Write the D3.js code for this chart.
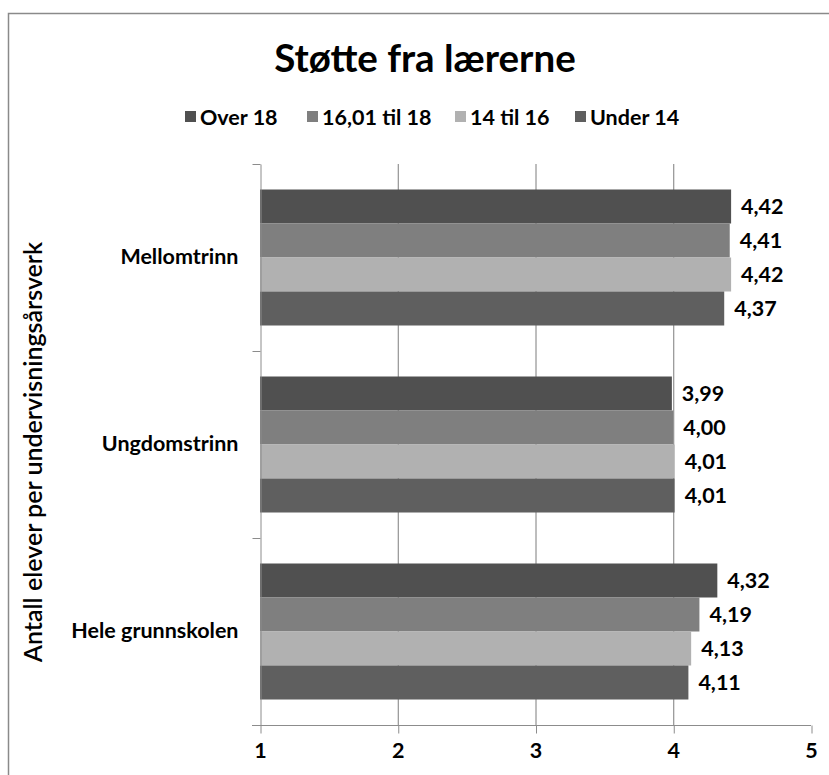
<!DOCTYPE html>
<html>
<head>
<meta charset="utf-8">
<script src="https://cdn.jsdelivr.net/npm/d3@7"></script>
<style>
  html, body { margin: 0; padding: 0; background: #fff; }
  svg { display: block; }
  text { font-family: Lato, "Open Sans", sans-serif; fill: #000; }
</style>
</head>
<body>
<script>
// Skolenivå (kategorier) og gruppene etter antall elever per undervisningsårsverk
const categories = ["Mellomtrinn", "Ungdomstrinn", "Hele grunnskolen"];
const seriesNames = ["Over 18", "16,01 til 18", "14 til 16", "Under 14"];
const overEighteen = [4.42, 3.99, 4.32];
const sixteenToEighteen = [4.41, 4.00, 4.19];
const fourteenToSixteen = [4.42, 4.01, 4.13];
const underFourteen = [4.37, 4.01, 4.11];
const xTicks = [1, 2, 3, 4, 5];
const seriesColors = ["#505050", "#7f7f7f", "#b1b1b1", "#5f5f5f"];

const seriesValues = [overEighteen, sixteenToEighteen, fourteenToSixteen, underFourteen];

const W = 829, H = 775;
const plot = { left: 260, right: 811, top: 164, bottom: 725 };
const labelFont = 21.5;

const svg = d3.select("body").append("svg")
  .attr("width", W).attr("height", H);

// Ytre ramme rundt diagrammet
svg.append("rect")
  .attr("x", 8.5).attr("y", 13.5)
  .attr("width", 900).attr("height", 900)
  .attr("fill", "none").attr("stroke", "#8a8a8a").attr("stroke-width", 1.5);

// Tittel
svg.append("text")
  .attr("x", 425).attr("y", 72)
  .attr("text-anchor", "middle")
  .attr("font-size", 38.5).attr("font-weight", 700)
  .text("Støtte fra lærerne");

// Skalaer
const x = d3.scaleLinear().domain([1, 5]).range([plot.left, plot.right]);
const y0 = d3.scaleBand().domain(categories).range([plot.top, plot.bottom]).paddingInner(0).paddingOuter(0);
const y1 = d3.scaleBand().domain(seriesNames).range([0, y0.bandwidth()]).paddingInner(0).paddingOuter(0.75);

// Vertikale rutenettlinjer
svg.append("g")
  .selectAll("line")
  .data([2, 3, 4])
  .join("line")
  .attr("x1", d => x(d) + 0.5).attr("x2", d => x(d) + 0.5)
  .attr("y1", plot.top).attr("y2", plot.bottom)
  .attr("stroke", "#7d7d7d").attr("stroke-width", 1);

// Søyler
const fmt = v => d3.format(".2f")(v).replace(".", ",");
const groups = svg.append("g")
  .selectAll("g")
  .data(categories)
  .join("g")
  .attr("transform", d => `translate(0,${y0(d)})`);

groups.each(function (cat, ci) {
  const g = d3.select(this);
  const rows = seriesNames.map((s, si) => ({ s, si, v: seriesValues[si][ci] }));
  g.selectAll("rect")
    .data(rows)
    .join("rect")
    .attr("x", x(1))
    .attr("y", d => y1(d.s))
    .attr("width", d => x(d.v) - x(1))
    .attr("height", y1.bandwidth())
    .attr("fill", d => seriesColors[d.si]);
  g.selectAll("text")
    .data(rows)
    .join("text")
    .attr("x", d => x(d.v) + 10)
    .attr("y", d => y1(d.s) + y1.bandwidth() / 2)
    .attr("dy", "0.36em")
    .attr("font-size", labelFont).attr("font-weight", 700)
    .text(d => fmt(d.v));
});

// Akser
const axisColor = "#8c8c8c";
const xAxis = svg.append("g")
  .attr("transform", `translate(0,${plot.bottom + 0.5})`)
  .call(d3.axisBottom(x).tickValues(xTicks).tickSize(8).tickSizeOuter(0).tickFormat(d3.format("d")));
xAxis.select(".domain").attr("stroke", axisColor).attr("d", `M${plot.left - 8},0H${plot.right}`);
xAxis.selectAll(".tick line").attr("stroke", axisColor).attr("transform", "translate(0.5,0)");
xAxis.selectAll(".tick text")
  .attr("font-size", labelFont).attr("font-weight", 700)
  .attr("font-family", "Lato, 'Open Sans', sans-serif")
  .attr("fill", "#000").attr("y", 17);

const yAxis = svg.append("g")
  .attr("transform", `translate(${plot.left + 0.5},0)`)
  .call(d3.axisLeft(y0).tickSize(0).tickSizeOuter(0).tickPadding(22));
yAxis.select(".domain").attr("stroke", axisColor);
yAxis.selectAll(".tick text")
  .attr("font-size", labelFont).attr("font-weight", 700)
  .attr("font-family", "Lato, 'Open Sans', sans-serif")
  .attr("fill", "#000");
// Skillestreker mellom kategoriene
yAxis.append("g")
  .selectAll("line")
  .data([plot.top, y0("Ungdomstrinn"), y0("Hele grunnskolen"), plot.bottom])
  .join("line")
  .attr("x1", -8).attr("x2", 0)
  .attr("y1", d => d + 0.5).attr("y2", d => d + 0.5)
  .attr("stroke", axisColor);

// Aksetittel
svg.append("text")
  .attr("transform", `translate(42,452) rotate(-90)`)
  .attr("text-anchor", "middle")
  .attr("font-size", 25).attr("font-weight", 600)
  .text("Antall elever per undervisningsårsverk");

// Tegnforklaring
const legendItems = [
  { name: seriesNames[0], x: 185 },
  { name: seriesNames[1], x: 307 },
  { name: seriesNames[2], x: 455 },
  { name: seriesNames[3], x: 575 }
];
const legend = svg.append("g");
legendItems.forEach((d, i) => {
  legend.append("rect")
    .attr("x", d.x).attr("y", 111)
    .attr("width", 11).attr("height", 11)
    .attr("fill", seriesColors[i]);
  legend.append("text")
    .attr("x", d.x + 15).attr("y", 117)
    .attr("dy", "0.36em")
    .attr("font-size", labelFont).attr("font-weight", 700)
    .text(d.name);
});
</script>
</body>
</html>
